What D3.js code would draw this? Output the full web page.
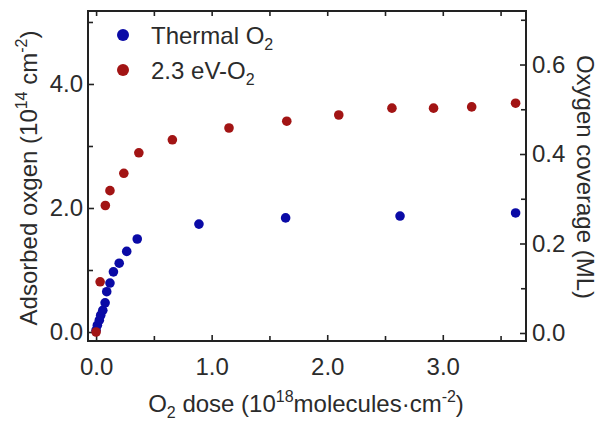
<!DOCTYPE html>
<html>
<head>
<meta charset="utf-8">
<script src="https://cdn.jsdelivr.net/npm/d3@7"></script>
<style>
  body { margin: 0; background: #fff; }
  text { font-family: "Liberation Sans", Arial, sans-serif; fill: #2b2b2b; }
</style>
</head>
<body>
<script>
// thermal O2 series
var thermalDose = [0.0, 0.011, 0.028, 0.04, 0.058, 0.078, 0.092, 0.12, 0.15, 0.20, 0.265, 0.356, 0.89, 1.64, 2.63, 3.63];
var thermalOxy  = [0.03, 0.11, 0.19, 0.27, 0.35, 0.47, 0.65, 0.79, 0.97, 1.11, 1.30, 1.50, 1.74, 1.84, 1.87, 1.92];
// 2.3 eV O2 series
var hotDose = [0.0, 0.035, 0.08, 0.12, 0.24, 0.37, 0.66, 1.15, 1.65, 2.10, 2.56, 2.92, 3.25, 3.63];
var hotOxy  = [0.0, 0.81, 2.04, 2.28, 2.56, 2.89, 3.10, 3.29, 3.40, 3.50, 3.61, 3.61, 3.63, 3.69];

var xMajor = [0, 1, 2, 3];
var xMinor = [0.5, 1.5, 2.5, 3.5];
var yMajor = [0, 2, 4];
var yMinor = [1, 3, 5];
var y2Major = [0, 0.2, 0.4, 0.6];
var y2Minor = [0.1, 0.3, 0.5, 0.7];

var seriesNames = ["Thermal O", "2.3 eV-O"];
var seriesColors = ["#0a0aa6", "#a21414"];

var W = 609, H = 434;
var plotLeft = 88, plotRight = 526, plotTop = 11, plotBottom = 341;

var x = d3.scaleLinear().domain([-0.07, 3.72]).range([plotLeft, plotRight]);
var y = d3.scaleLinear().domain([-0.145, 5.177]).range([plotBottom, plotTop]);
var y2 = d3.scaleLinear().domain([-0.0179, 0.7196]).range([plotBottom, plotTop]);

var svg = d3.select("body").append("svg")
    .attr("width", W)
    .attr("height", H);

function styleAxis(g) {
    g.attr("font-family", null).attr("font-size", null);
    g.select(".domain").remove();
    g.selectAll(".tick line").attr("stroke", "#222").attr("stroke-width", 1.6);
    g.selectAll(".tick text").style("font-size", "24px").attr("fill", "#2b2b2b");
}

// bottom
svg.append("g").attr("transform", "translate(0," + plotBottom + ")")
    .call(d3.axisBottom(x).tickValues(xMajor).tickSize(-6).tickPadding(17).tickFormat(d3.format(".1f")))
    .call(styleAxis);
svg.append("g").attr("transform", "translate(0," + plotBottom + ")")
    .call(d3.axisBottom(x).tickValues(xMinor).tickSize(-5).tickFormat(""))
    .call(styleAxis);
// top
svg.append("g").attr("transform", "translate(0," + plotTop + ")")
    .call(d3.axisTop(x).tickValues(xMajor.concat(xMinor)).tickSize(-5).tickFormat(""))
    .call(styleAxis);
// left
svg.append("g").attr("transform", "translate(" + plotLeft + ",0)")
    .call(d3.axisLeft(y).tickValues(yMajor).tickSize(-6).tickPadding(5).tickFormat(d3.format(".1f")))
    .call(styleAxis);
svg.append("g").attr("transform", "translate(" + plotLeft + ",0)")
    .call(d3.axisLeft(y).tickValues(yMinor).tickSize(-5).tickFormat(""))
    .call(styleAxis);
// right
svg.append("g").attr("transform", "translate(" + plotRight + ",0)")
    .call(d3.axisRight(y2).tickValues(y2Major).tickSize(-6).tickPadding(6).tickFormat(d3.format(".1f")))
    .call(styleAxis);
svg.append("g").attr("transform", "translate(" + plotRight + ",0)")
    .call(d3.axisRight(y2).tickValues(y2Minor).tickSize(-5).tickFormat(""))
    .call(styleAxis);

// frame
svg.append("rect")
    .attr("x", plotLeft).attr("y", plotTop)
    .attr("width", plotRight - plotLeft).attr("height", plotBottom - plotTop)
    .attr("fill", "none").attr("stroke", "#222").attr("stroke-width", 2);

// points
var thermal = thermalDose.map(function (d, i) { return [d, thermalOxy[i]]; });
var hot = hotDose.map(function (d, i) { return [d, hotOxy[i]]; });

svg.append("g").selectAll("circle")
    .data(thermal)
    .enter().append("circle")
    .attr("cx", function (d) { return x(d[0]); })
    .attr("cy", function (d) { return y(d[1]); })
    .attr("r", 4.8)
    .attr("fill", seriesColors[0]);

svg.append("g").selectAll("circle")
    .data(hot)
    .enter().append("circle")
    .attr("cx", function (d) { return x(d[0]); })
    .attr("cy", function (d) { return y(d[1]); })
    .attr("r", 4.8)
    .attr("fill", seriesColors[1]);

// legend
var legend = svg.append("g");
seriesNames.forEach(function (name, i) {
    var ly = 35 + i * 35;
    legend.append("circle")
        .attr("cx", 123).attr("cy", ly).attr("r", 6)
        .attr("fill", seriesColors[i]);
    var t = legend.append("text")
        .attr("x", 151).attr("y", ly + 9)
        .style("font-size", "24px");
    t.append("tspan").text(name);
    t.append("tspan").attr("dy", 6).style("font-size", "16px").text("2");
});

// x title
var xt = svg.append("text")
    .attr("x", 306).attr("y", 412)
    .attr("text-anchor", "middle")
    .style("font-size", "24px");
xt.append("tspan").text("O");
xt.append("tspan").attr("dy", 6).style("font-size", "16px").text("2");
xt.append("tspan").attr("dy", -6).text(" dose (10");
xt.append("tspan").attr("dy", -10).style("font-size", "16px").text("18");
xt.append("tspan").attr("dy", 10).text("molecules\u00b7cm");
xt.append("tspan").attr("dy", -10).style("font-size", "16px").text("-2");
xt.append("tspan").attr("dy", 10).text(")");

// left title
var yt = svg.append("text")
    .attr("transform", "translate(37,178) rotate(-90)")
    .attr("text-anchor", "middle")
    .style("font-size", "24px");
yt.append("tspan").text("Adsorbed oxgen (10");
yt.append("tspan").attr("dy", -10).style("font-size", "16px").text("14");
yt.append("tspan").attr("dy", 10).text(" cm");
yt.append("tspan").attr("dy", -10).style("font-size", "16px").text("-2");
yt.append("tspan").attr("dy", 10).text(")");

// right title
svg.append("text")
    .attr("transform", "translate(577,177) rotate(90)")
    .attr("text-anchor", "middle")
    .style("font-size", "24px")
    .text("Oxygen coverage (ML)");
</script>
</body>
</html>
